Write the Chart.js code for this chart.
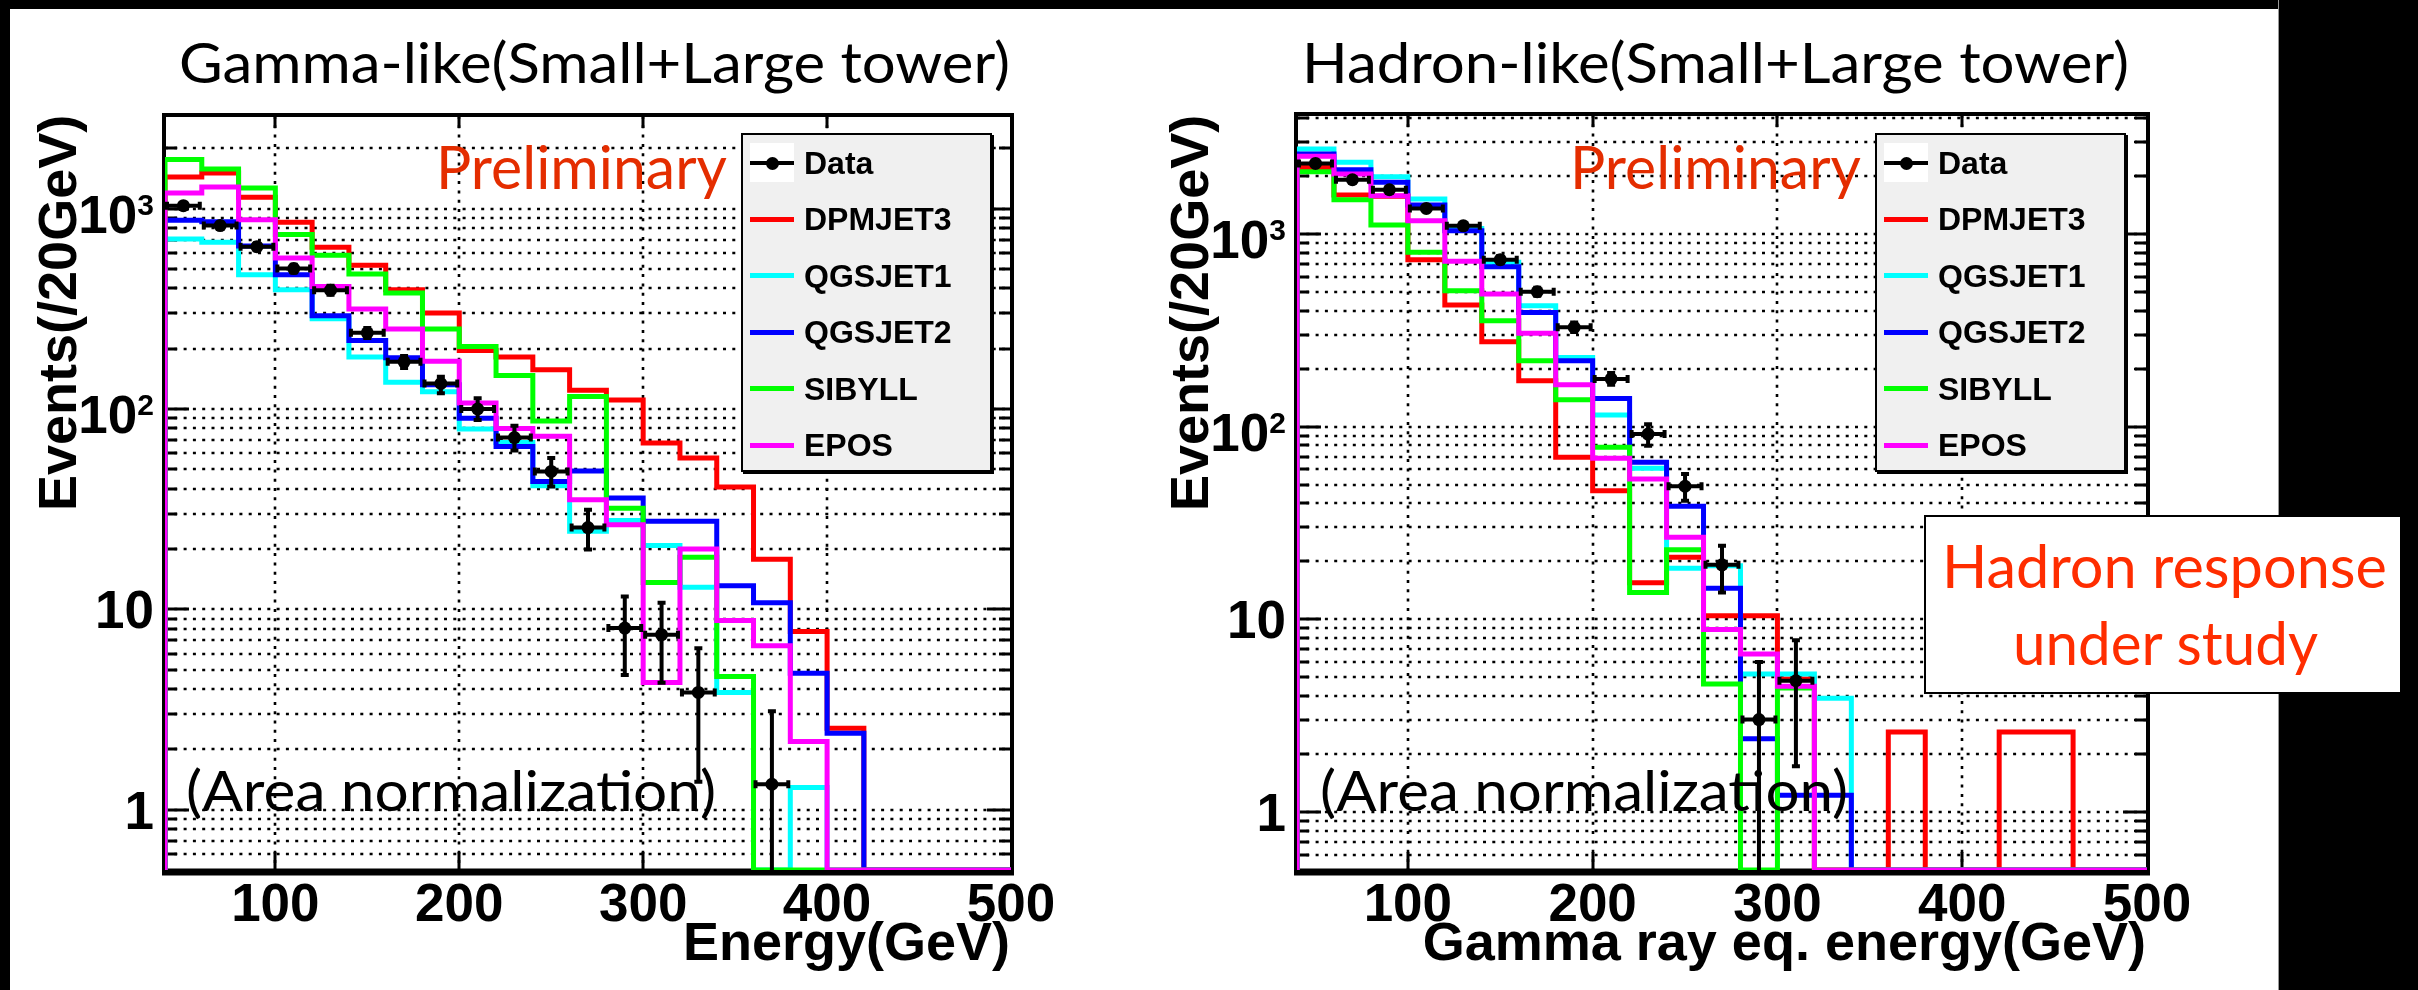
<!DOCTYPE html>
<html lang="en">
<head>
<meta charset="utf-8">
<title>Gamma-like / Hadron-like energy spectra</title>
<script src="https://cdn.jsdelivr.net/npm/chart.js@4.4.1/dist/chart.umd.min.js"></script>
<style>
  html, body { margin: 0; padding: 0; }
  body { width: 2418px; height: 990px; position: relative; overflow: hidden; background: #fff; }
  canvas { position: absolute; left: 0; top: 0; }
  .band { position: absolute; background: #000; z-index: 5; }
  .txt { position: absolute; white-space: nowrap; line-height: 1.2; z-index: 4; transform-origin: 0 0; }
  .gill { font-family: Lato, 'Open Sans', sans-serif; font-weight: 400; }
  .helv { font-family: 'Liberation Sans', Arial, sans-serif; font-weight: 700; color: #000; }
  .mark { display: inline-block; width: 0; height: 0; vertical-align: baseline; }
  .legend { position: absolute; background: #f0f0f0; border: 2px solid #000; box-shadow: 2px 2px 0 #000; box-sizing: border-box; z-index: 3; }
  .piece { position: absolute; z-index: 4; }
  .note { position: absolute; background: #fff; border: 2px solid #000; box-sizing: border-box; z-index: 6; }
</style>
</head>
<body>
<canvas id="gammaChart" width="2418" height="990"></canvas>
<canvas id="hadronChart" width="2418" height="990"></canvas>
<div class="band" style="left:0;top:0;width:2418px;height:9px"></div>
<div class="band" style="left:0;top:0;width:10px;height:990px"></div>
<div class="band" style="left:2278px;top:0;width:140px;height:990px;border-left:1px solid #999"></div>
<div class="note" style="left:1924px;top:515px;width:478px;height:179px"></div>
<script>
// bins are 20 GeV wide
const binEdges = [40, 60, 80, 100, 120, 140, 160, 180, 200, 220, 240, 260, 280, 300, 320, 340, 360, 380, 400, 420, 440, 460, 480, 500];
const binCenters = [50, 70, 90, 110, 130, 150, 170, 190, 210, 230, 250, 270, 290, 310, 330, 350, 370, 390, 410, 430, 450, 470, 490];
const xTickValues = [100, 200, 300, 400, 500];
const xTickLabels = ['100', '200', '300', '400', '500'];
const yTickValues = [1, 10, 100, 1000];
const yTickLabels = ['1', '10', '10^2', '10^3'];
const modelNames = ['DPMJET3', 'QGSJET1', 'QGSJET2', 'SIBYLL', 'EPOS'];
const modelColors = ['#ff0000', '#00ffff', '#0000ff', '#00ff00', '#ff00ff'];
const yMin = 0.5;
const gammaYMax = 2900;
const hadronYMax = 4150;

// Gamma-like (Small+Large tower)
const gammaDPMJET3 = [1440, 1508, 1139, 854, 641, 521, 394, 301, 196, 182, 157, 124, 111, 67.7, 56.9, 40.8, 17.8, 7.76, 2.55, 0, 0, 0, 0];
const gammaQGSJET1 = [706, 679, 468, 394, 282, 182, 136, 122, 79.5, 68, 41.4, 24.5, 27.8, 20.8, 12.9, 3.85, 0, 1.29, 0, 0, 0, 0, 0];
const gammaQGSJET2 = [874, 860, 650, 468, 292, 220, 180, 132, 90, 65, 43.5, 49, 36, 27.5, 27.5, 13.1, 10.8, 4.8, 2.41, 0, 0, 0, 0];
const gammaSIBYLL = [1757, 1579, 1269, 742, 585, 472, 379, 251, 205, 147, 87, 115.6, 32, 13.6, 18.2, 4.62, 0, 0, 0, 0, 0, 0, 0];
const gammaEPOS = [1197, 1283, 881, 567, 409, 316, 251, 173, 107, 80, 73, 35.2, 26.4, 4.31, 20, 8.8, 6.58, 2.19, 0, 0, 0, 0, 0];
const gammaData = [1035, 823, 646, 502, 392, 240, 172, 134, 100, 72, 48.8, 25.6, 8.06, 7.47, 3.85, null, 1.34, null, null, null, null, null, null];
const gammaDataLow = [1005, 795, 620, 480, 372, 226, 160, 120, 88, 62, 41, 19.9, 4.7, 4.3, 1.38, null, 0.3, null, null, null, null, null, null];
const gammaDataHigh = [1066, 852, 672, 525, 412, 254, 184, 145, 113, 82.5, 57, 31.4, 11.6, 10.8, 6.4, null, 3.1, null, null, null, null, null, null];

// Hadron-like (Small+Large tower)
const hadronDPMJET3 = [2219, 1594, 1570, 736, 428, 276, 173, 69.4, 46.5, 15.5, 21, 10.45, 10.45, 4.9, 0, 0, 2.6, 0, 0, 2.6, 2.6, 0, 0];
const hadronQGSJET1 = [2762, 2356, 1984, 1519, 1070, 713, 425, 229, 115, 60.8, 18.4, 19, 5.2, 5.2, 3.9, 0, 0, 0, 0, 0, 0, 0, 0];
const hadronQGSJET2 = [2602, 2157, 1855, 1414, 1040, 676, 392, 220, 140, 65.3, 38.6, 14.5, 2.4, 1.22, 1.22, 0, 0, 0, 0, 0, 0, 0, 0];
const hadronSIBYLL = [2105, 1507, 1114, 804, 508, 355, 220, 138, 78.2, 13.8, 23, 4.62, 0, 4.4, 0, 0, 0, 0, 0, 0, 0, 0, 0];
const hadronEPOS = [2532, 2048, 1580, 1173, 722, 488, 306, 165, 68.5, 53.5, 26.7, 8.85, 6.6, 4.5, 0, 0, 0, 0, 0, 0, 0, 0, 0];
const hadronData = [2327, 1914, 1698, 1359, 1104, 736, 502, 328, 177, 91.6, 49.1, 19.2, 3.02, 4.8, null, null, null, null, null, null, null, null, null];
const hadronDataLow = [2270, 1865, 1650, 1315, 1065, 705, 478, 310, 165, 79.7, 41.3, 13.8, 0.3, 1.73, null, null, null, null, null, null, null, null, null];
const hadronDataHigh = [2385, 1965, 1745, 1400, 1145, 770, 527, 348, 190, 103, 56.9, 24.1, 6.0, 7.8, null, null, null, null, null, null, null, null, null];

// 1..9 x 10^n inside the axis range
function logGridValues(min, max) {
    const vals = [];
    for (let e = Math.floor(Math.log10(min)); e <= Math.ceil(Math.log10(max)); e++) {
        for (let k = 1; k <= 9; k++) {
            const v = k * Math.pow(10, e);
            if (v > min * 1.001 && v < max * 0.999) vals.push(v);
        }
    }
    return vals;
}

function isDecade(v) {
    const l = Math.log10(v);
    return Math.abs(l - Math.round(l)) < 1e-9;
}

// ROOT style frame, dotted grid and tick marks
const rootFrame = {
    id: 'rootFrame',
    beforeDatasetsDraw(chart) {
        const { ctx, chartArea: a, scales: { x, y } } = chart;
        const seg = (x1, y1, x2, y2) => {
            ctx.beginPath();
            ctx.moveTo(x1, y1);
            ctx.lineTo(x2, y2);
            ctx.stroke();
        };
        const gridY = logGridValues(y.min, y.max);
        ctx.save();
        ctx.strokeStyle = '#000';

        ctx.lineWidth = 2.6;
        ctx.setLineDash([3, 6.3]);
        gridY.forEach(v => {
            const py = Math.round(y.getPixelForValue(v));
            seg(a.left, py, a.right, py);
        });
        xTickValues.filter(v => v < x.max).forEach(v => {
            const px = Math.round(x.getPixelForValue(v));
            seg(px, a.top, px, a.bottom);
        });
        ctx.setLineDash([]);

        ctx.lineWidth = 3;
        gridY.forEach(v => {
            const py = Math.round(y.getPixelForValue(v));
            const len = isDecade(v) ? 24 : 12;
            seg(a.left, py, a.left + len, py);
            seg(a.right - len, py, a.right, py);
        });
        xTickValues.filter(v => v < x.max).forEach(v => {
            const px = Math.round(x.getPixelForValue(v));
            seg(px, a.bottom, px, a.bottom - 18);
            seg(px, a.top, px, a.top + 12);
        });

        ctx.lineWidth = 4;
        ctx.strokeRect(a.left - 1, a.top - 1, a.right - a.left + 2, a.bottom - a.top + 2);
        ctx.lineWidth = 7;
        seg(a.left - 3, a.bottom + 2, a.right + 3, a.bottom + 2);
        ctx.restore();
    }
};

// vertical and horizontal error bars for the data points
const errorBars = {
    id: 'errorBars',
    afterDatasetsDraw(chart) {
        const { ctx, chartArea: a, scales: { x, y } } = chart;
        chart.data.datasets.forEach(ds => {
            if (!ds.errLow) return;
            ctx.save();
            ctx.beginPath();
            ctx.rect(a.left, a.top, a.right - a.left, a.bottom - a.top);
            ctx.clip();
            ctx.strokeStyle = '#000';
            ctx.lineWidth = 4;
            ctx.lineCap = 'butt';
            ds.data.forEach((p, i) => {
                if (p.y == null) return;
                const px = x.getPixelForValue(p.x);
                const py = y.getPixelForValue(p.y);
                const xl = x.getPixelForValue(binEdges[i]);
                const xr = x.getPixelForValue(binEdges[i + 1]);
                const yl = y.getPixelForValue(ds.errLow[i]);
                const yh = y.getPixelForValue(ds.errHigh[i]);
                ctx.beginPath();
                ctx.moveTo(px, yh); ctx.lineTo(px, yl);
                ctx.moveTo(xl, py); ctx.lineTo(xr, py);
                ctx.moveTo(px - 4, yh); ctx.lineTo(px + 4, yh);
                ctx.moveTo(px - 4, yl); ctx.lineTo(px + 4, yl);
                ctx.moveTo(xl + 2, py - 4); ctx.lineTo(xl + 2, py + 4);
                ctx.moveTo(xr - 2, py - 4); ctx.lineTo(xr - 2, py + 4);
                ctx.stroke();
            });
            ctx.restore();
        });
    }
};

// step outline of a histogram, empty bins lie on the bottom of the frame
function histPoints(values) {
    const pts = [{ x: binEdges[0], y: yMin }];
    values.forEach((v, i) => pts.push({ x: binEdges[i], y: v > 0 ? v : yMin }));
    const last = values[values.length - 1];
    pts.push({ x: binEdges[binEdges.length - 1], y: last > 0 ? last : yMin });
    return pts;
}

function buildChart(canvasId, area, yMax, models, data, dataLow, dataHigh) {
    const datasets = models.map((values, i) => ({
        label: modelNames[i],
        data: histPoints(values),
        borderColor: modelColors[i],
        borderWidth: 5,
        borderJoinStyle: 'miter',
        borderCapStyle: 'butt',
        pointRadius: 0,
        stepped: 'before',
        fill: false,
        order: models.length - i
    }));
    datasets.push({
        label: 'Data',
        data: binCenters.map((c, i) => ({ x: c, y: data[i] })),
        showLine: false,
        pointRadius: 6.5,
        pointBackgroundColor: '#000',
        pointBorderColor: '#000',
        pointBorderWidth: 0,
        errLow: dataLow,
        errHigh: dataHigh,
        order: 0
    });
    return new Chart(document.getElementById(canvasId), {
        type: 'line',
        data: { datasets },
        options: {
            responsive: false,
            maintainAspectRatio: false,
            animation: false,
            events: [],
            devicePixelRatio: 1,
            layout: {
                padding: { left: area.left, right: 2418 - area.right, top: area.top, bottom: 990 - area.bottom }
            },
            plugins: {
                legend: { display: false },
                tooltip: { enabled: false },
                title: { display: false }
            },
            scales: {
                x: { type: 'linear', min: binEdges[0], max: binEdges[binEdges.length - 1], display: false },
                y: { type: 'logarithmic', min: yMin, max: yMax, display: false }
            }
        },
        plugins: [rootFrame, errorBars]
    });
}

// text placed by its baseline, optionally stretched to a width
function addText(html, style, x, baseline, align, fitWidth, z) {
    const el = document.createElement('div');
    el.className = 'txt ' + style.cls;
    el.style.fontSize = style.size + 'px';
    if (style.color) el.style.color = style.color;
    el.innerHTML = html + '<span class="mark"></span>';
    document.body.appendChild(el);
    const b = el.querySelector('.mark').offsetTop;
    const w = el.getBoundingClientRect().width;
    const s = fitWidth ? fitWidth / w : 1;
    const vw = w * s;
    const left = align === 'left' ? x : align === 'center' ? x - vw / 2 : x - vw;
    el.style.left = left + 'px';
    el.style.top = (baseline - b) + 'px';
    if (s !== 1) el.style.transform = 'scaleX(' + s + ')';
    if (z) el.style.zIndex = z;
    return el;
}

function addRotated(text, style, baselineX, topY) {
    const el = document.createElement('div');
    el.className = 'txt ' + style.cls;
    el.style.fontSize = style.size + 'px';
    el.innerHTML = text + '<span class="mark"></span>';
    document.body.appendChild(el);
    const b = el.querySelector('.mark').offsetTop;
    const w = el.getBoundingClientRect().width;
    el.style.left = baselineX + 'px';
    el.style.top = (topY + w - b) + 'px';
    el.style.transformOrigin = '0px ' + b + 'px';
    el.style.transform = 'rotate(-90deg)';
}

function addPiece(left, top, width, height, css) {
    const d = document.createElement('div');
    d.className = 'piece';
    d.style.cssText += 'left:' + left + 'px;top:' + top + 'px;width:' + width + 'px;height:' + height + 'px;' + css;
    document.body.appendChild(d);
}

const tickFont = { cls: 'helv', size: 53 };
const axisFont = { cls: 'helv', size: 54 };
const legendFont = { cls: 'helv', size: 32 };
const titleFont = { cls: 'gill', size: 56, color: '#000' };
const prelimFont = { cls: 'gill', size: 60, color: '#e42d00' };
const noteFont = { cls: 'gill', size: 60, color: '#ff2d00' };

function addAxisLabels(chart) {
    const { chartArea: a, scales: { x, y } } = chart;
    xTickValues.forEach((v, i) => addText(xTickLabels[i], tickFont, x.getPixelForValue(v), 921, 'center'));
    yTickValues.forEach((v, i) => {
        const parts = yTickLabels[i].split('^');
        const py = y.getPixelForValue(v);
        const html = parts[1]
            ? parts[0] + '<span style="font-size:30px;position:relative;top:-18px">' + parts[1] + '</span>'
            : parts[0];
        addText(html, tickFont, a.left - 11, py + (parts[1] ? 24 : 19), 'right');
    });
}

function addLegend(left, top) {
    const width = 251, height = 339, rowY0 = 30, rowStep = 56.4;
    const box = document.createElement('div');
    box.className = 'legend';
    box.style.cssText += 'left:' + left + 'px;top:' + top + 'px;width:' + width + 'px;height:' + height + 'px';
    document.body.appendChild(box);
    ['Data'].concat(modelNames).forEach((name, i) => {
        const cy = top + rowY0 + i * rowStep;
        if (i === 0) {
            addPiece(left + 9, cy - 20, 44, 39, 'background:#fff');
            addPiece(left + 9, cy - 2, 44, 4, 'background:#000');
            addPiece(left + 24.5, cy - 6.5, 13, 13, 'background:#000;border-radius:50%');
        } else {
            addPiece(left + 9, cy - 2.5, 44, 5, 'background:' + modelColors[i - 1]);
        }
        addText(name, legendFont, left + 63, cy + 11, 'left');
    });
}

document.addEventListener('DOMContentLoaded', () => {
    const gammaArea = { left: 165, right: 1011, top: 116, bottom: 870 };
    const hadronArea = { left: 1297, right: 2147, top: 115, bottom: 870 };

    const gammaChart = buildChart('gammaChart', gammaArea, gammaYMax,
        [gammaDPMJET3, gammaQGSJET1, gammaQGSJET2, gammaSIBYLL, gammaEPOS],
        gammaData, gammaDataLow, gammaDataHigh);
    const hadronChart = buildChart('hadronChart', hadronArea, hadronYMax,
        [hadronDPMJET3, hadronQGSJET1, hadronQGSJET2, hadronSIBYLL, hadronEPOS],
        hadronData, hadronDataLow, hadronDataHigh);

    addAxisLabels(gammaChart);
    addAxisLabels(hadronChart);

    // Gamma-like panel
    addText('Gamma-like(Small+Large tower)', titleFont, 179, 83, 'left', 831);
    addText('Preliminary', prelimFont, 436, 189, 'left', 291);
    addText('(Area normalization)', titleFont, 186, 811, 'left', 530);
    addRotated('Events(/20GeV)', axisFont, 76, 115);
    addText('Energy(GeV)', axisFont, 1010, 960, 'right');
    addLegend(741, 133);

    // Hadron-like panel
    addText('Hadron-like(Small+Large tower)', titleFont, 1302, 83, 'left', 827);
    addText('Preliminary', prelimFont, 1570, 189, 'left', 291);
    addText('(Area normalization)', titleFont, 1320, 811, 'left', 528);
    addRotated('Events(/20GeV)', axisFont, 1208, 115);
    addText('Gamma ray eq. energy(GeV)', axisFont, 2146, 960, 'right');
    addLegend(1875, 133);

    addText('Hadron response', noteFont, 2164, 588, 'center', 445, 7);
    addText('under study', noteFont, 2165, 665, 'center', 305, 7);
});
</script>
</body>
</html>
